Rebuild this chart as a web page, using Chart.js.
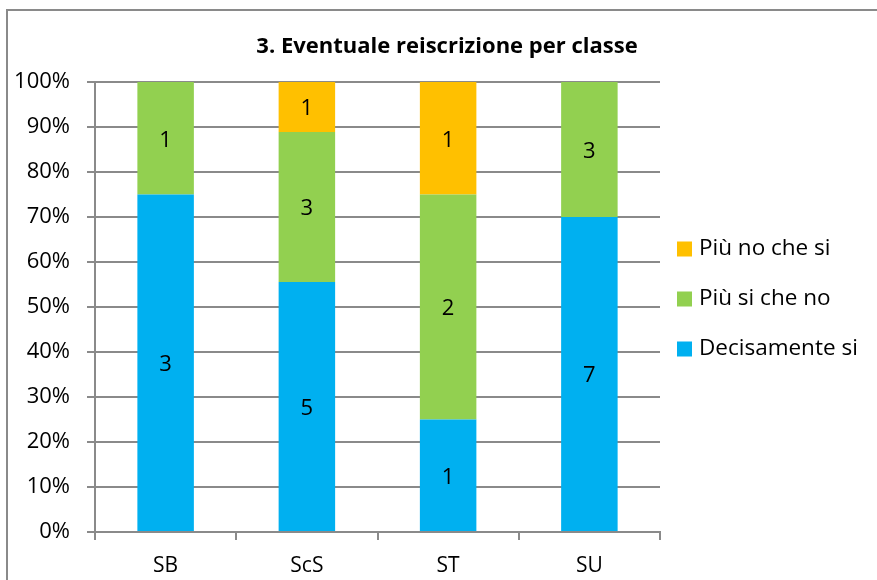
<!DOCTYPE html>
<html>
<head>
<meta charset="utf-8">
<title>Eventuale reiscrizione per classe</title>
<script src="https://cdn.jsdelivr.net/npm/chart.js@4.4.1/dist/chart.umd.min.js"></script>
<style>
    html, body { margin: 0; padding: 0; overflow: hidden; background: #fff; }
    #wrap { position: relative; width: 877px; height: 580px; }
    #frame { position: absolute; left: 6px; top: 9px; width: 900px; height: 600px;
             border-left: 2px solid #8a8a8a; border-top: 2px solid #8a8a8a; pointer-events: none; }
    #chart { position: absolute; left: 0; top: 0; }
</style>
</head>
<body>
<div id="wrap">
    <canvas id="chart" width="877" height="580"></canvas>
    <div id="frame"></div>
</div>
<script>
// Data (number of answers per class)
const classes = ['SB', 'ScS', 'ST', 'SU'];
const decisamenteSi = [3, 5, 1, 7];
const piuSiCheNo = [1, 3, 2, 3];
const piuNoCheSi = [0, 1, 1, 0];
const seriesNames = ['Decisamente si', 'Più si che no', 'Più no che si'];
const seriesColors = ['#00B0F0', '#92D050', '#FFC000'];
const chartTitle = '3. Eventuale reiscrizione per classe';

const FONT = '"Open Sans", "Liberation Sans", sans-serif';
const GRID = '#8a8a8a';

// 100% stacked: turn counts into share of the class total
const totals = classes.map((c, i) => decisamenteSi[i] + piuSiCheNo[i] + piuNoCheSi[i]);
function toPercent(series) {
    return series.map((v, i) => v / totals[i] * 100);
}

const counts = [decisamenteSi, piuSiCheNo, piuNoCheSi];

// Count labels inside each segment
const segmentLabels = {
    id: 'segmentLabels',
    afterDatasetsDraw(chart) {
        const ctx = chart.ctx;
        ctx.save();
        ctx.font = '22px ' + FONT;
        ctx.fillStyle = '#000';
        ctx.textAlign = 'center';
        ctx.textBaseline = 'middle';
        chart.data.datasets.forEach((ds, d) => {
            chart.getDatasetMeta(d).data.forEach((bar, i) => {
                const n = counts[d][i];
                if (!n) return;
                ctx.fillText(String(n), bar.x, (bar.y + bar.base) / 2 + 2);
            });
        });
        ctx.restore();
    }
};

// Title and legend placed like the Excel chart
const titleAndLegend = {
    id: 'titleAndLegend',
    afterDraw(chart) {
        const ctx = chart.ctx;
        const area = chart.chartArea;
        ctx.save();
        ctx.fillStyle = '#000';
        ctx.textBaseline = 'middle';

        ctx.font = 'bold 22px ' + FONT;
        ctx.textAlign = 'center';
        ctx.fillText(chartTitle, 447, 47);

        ctx.font = '22.5px ' + FONT;
        ctx.textAlign = 'left';
        const items = chart.data.datasets.slice().reverse();
        const x = area.right + 17;
        const y0 = 249;
        items.forEach((ds, k) => {
            const y = y0 + k * 50;
            ctx.fillStyle = ds.backgroundColor;
            ctx.fillRect(x, y - 7.5, 15, 15);
            ctx.fillStyle = '#000';
            ctx.fillText(ds.label, x + 22, y);
        });
        ctx.restore();
    }
};

const datasets = seriesNames.map((name, d) => ({
    label: name,
    data: toPercent(counts[d]),
    backgroundColor: seriesColors[d],
    borderWidth: 0,
    barPercentage: 0.4,
    categoryPercentage: 1.0
}));

new Chart(document.getElementById('chart'), {
    type: 'bar',
    data: { labels: classes, datasets: datasets },
    options: {
        responsive: false,
        animation: false,
        layout: { padding: { top: 82, right: 217, left: 0, bottom: 0 } },
        plugins: {
            legend: { display: false },
            title: { display: false },
            tooltip: { enabled: false }
        },
        scales: {
            x: {
                stacked: true,
                afterFit: (scale) => { scale.height = 48; },
                grid: {
                    offset: true,
                    drawOnChartArea: false,
                    drawTicks: true,
                    tickLength: 8,
                    color: GRID,
                    lineWidth: 2
                },
                border: { display: true, color: GRID, width: 2 },
                ticks: {
                    color: '#000',
                    padding: 13,
                    font: { family: FONT, size: 21 }
                }
            },
            y: {
                stacked: true,
                min: 0,
                max: 100,
                afterFit: (scale) => { scale.width = 95; },
                grid: {
                    color: GRID,
                    lineWidth: 2,
                    tickLength: 8
                },
                border: { display: true, color: GRID, width: 2 },
                ticks: {
                    stepSize: 10,
                    color: '#000',
                    padding: 17,
                    font: { family: FONT, size: 22 },
                    callback: (v) => v + '%'
                }
            }
        }
    },
    plugins: [segmentLabels, titleAndLegend]
});
</script>
</body>
</html>
